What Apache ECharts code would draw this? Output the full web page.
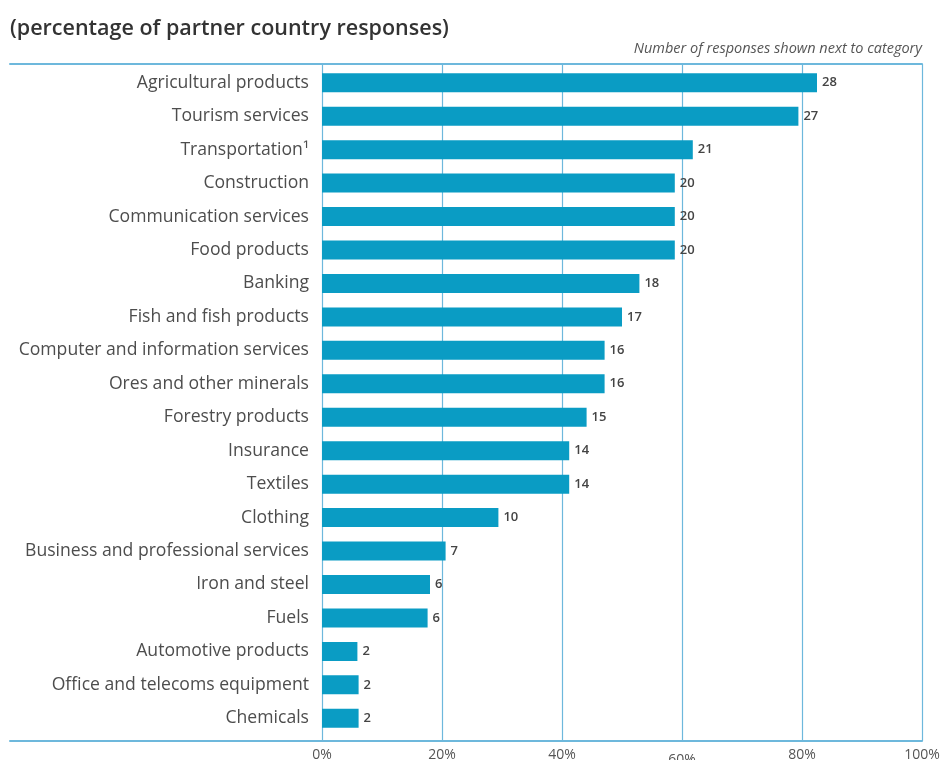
<!DOCTYPE html>
<html>
<head>
<meta charset="utf-8">
<script src="https://cdn.jsdelivr.net/npm/echarts@6/dist/echarts.min.js"></script>
<style>html,body{margin:0;padding:0;background:#fff;}#c{width:946px;height:760px;}</style>
</head>
<body>
<div id="c"></div>
<script>
const categories = [
  "Agricultural products", "Tourism services", "Transportation\u00b9", "Construction",
  "Communication services", "Food products", "Banking", "Fish and fish products",
  "Computer and information services", "Ores and other minerals", "Forestry products",
  "Insurance", "Textiles", "Clothing", "Business and professional services",
  "Iron and steel", "Fuels", "Automotive products", "Office and telecoms equipment", "Chemicals"
];
const percentages = [82.5, 79.4, 61.8, 58.8, 58.8, 58.8, 52.9, 50.0, 47.1, 47.1, 44.1, 41.2, 41.2, 29.4, 20.6, 18.0, 17.6, 5.9, 6.1, 6.1];
const responses = [28, 27, 21, 20, 20, 20, 18, 17, 16, 16, 15, 14, 14, 10, 7, 6, 6, 2, 2, 2];
const tickLabels = ["0%", "20%", "40%", "60%", "80%", "100%"];

const lineColor = "#6db8dc";
const chart = echarts.init(document.getElementById('c'), null, {renderer: 'canvas'});
const font = "'Open Sans', 'Noto Sans', sans-serif";

const data = percentages.map((v, i) => ({value: v, count: responses[i]}));

chart.setOption({
  backgroundColor: '#fff',
  animation: false,
  title: [
    {text: '(percentage of partner country responses)', left: 5, top: 13,
     textStyle: {fontFamily: font, fontSize: 21.5, fontWeight: 600, color: '#333'}},
    {text: 'Number of responses shown next to category', right: 19, top: 36,
     textStyle: {fontFamily: font, fontSize: 14.5, fontWeight: 'normal', fontStyle: 'italic', color: '#555'}}
  ],
  grid: [
    // gridlines + tick labels
    {left: 322, right: 24, top: 64, bottom: 19, containLabel: false, outerBoundsMode: 'none'},
    // bars
    {left: 322, right: 24, top: 66, bottom: 25, containLabel: false, outerBoundsMode: 'none'},
    // full-width border lines
    {left: 10, right: 24, top: 64, bottom: 19, containLabel: false, outerBoundsMode: 'none'}
  ],
  xAxis: [
    {gridIndex: 0, type: 'value', min: 0, max: 100, interval: 20,
     axisLine: {show: false}, axisTick: {show: false},
     splitLine: {show: true, showMinLine: true, showMaxLine: true, lineStyle: {color: lineColor, width: 1.2}},
     axisLabel: {margin: 7, fontFamily: font, fontSize: 14, color: '#555', verticalAlign: 'top',
       formatter: function (v) { const t = tickLabels[Math.round(v / 20)]; return v === 60 ? '{d|' + t + '}' : t; },
       rich: {d: {fontFamily: font, fontSize: 14, color: '#555', padding: [5, 0, 0, 0]}}}},
    {gridIndex: 1, type: 'value', min: 0, max: 100, show: false},
    {gridIndex: 2, type: 'value', min: 0, max: 1, position: 'bottom',
     axisLine: {show: true, onZero: false, lineStyle: {color: lineColor, width: 2}},
     axisTick: {show: false}, axisLabel: {show: false}, splitLine: {show: false}},
    {gridIndex: 2, type: 'value', min: 0, max: 1, position: 'top',
     axisLine: {show: true, onZero: false, lineStyle: {color: lineColor, width: 2}},
     axisTick: {show: false}, axisLabel: {show: false}, splitLine: {show: false}}
  ],
  yAxis: [
    {gridIndex: 0, type: 'value', show: false},
    {gridIndex: 1, type: 'category', data: categories, inverse: true,
     axisLine: {show: false}, axisTick: {show: false}, splitLine: {show: false},
     axisLabel: {margin: 13, fontFamily: font, fontSize: 17.6, color: '#4d4d4d'}},
    {gridIndex: 2, type: 'value', show: false}
  ],
  series: [{
    type: 'bar', xAxisIndex: 1, yAxisIndex: 1, data: data, barWidth: 19,
    itemStyle: {color: '#0a9cc4'},
    label: {show: true, position: 'right', distance: 5,
      formatter: function (p) { return p.data.count; },
      fontFamily: font, fontSize: 13, fontWeight: 600, color: '#444'}
  }]
});
</script>
</body>
</html>
